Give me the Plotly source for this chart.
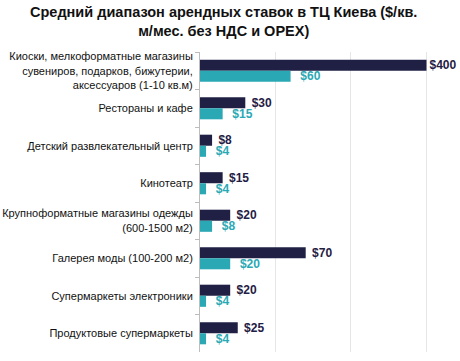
import plotly.graph_objects as go
import numpy as np

categories = [
    "Киоски, мелкоформатные магазины<br>сувениров, подарков, бижутерии,<br>аксессуаров (1-10 кв.м)",
    "Рестораны и кафе",
    "Детский развлекательный центр",
    "Кинотеатр",
    "Крупноформатные магазины одежды<br>(600-1500 м2)",
    "Галерея моды (100-200 м2)",
    "Супермаркеты электроники",
    "Продуктовые супермаркеты",
]
max_rates = [400, 30, 8, 15, 20, 70, 20, 25]
min_rates = [60, 15, 4, 4, 8, 20, 4, 4]

AXIS_CAP = 150  # the chart truncates bars at this value
DARK = "#1f2044"
TEAL = "#2aa9b4"

def shown(vals):
    return np.minimum(np.array(vals), AXIS_CAP)

def label(v, pad):
    return ("" if v > AXIS_CAP else pad) + f"<b>${v}</b>"

fig = go.Figure()
fig.add_trace(go.Bar(
    y=categories, x=shown(max_rates), orientation="h",
    marker=dict(color=DARK, line=dict(width=0)),
    text=[label(v, " ") for v in max_rates], textposition="outside",
    textfont=dict(family="Liberation Sans", size=12, color=DARK),
    cliponaxis=False, constraintext="none", name="max",
))
fig.add_trace(go.Bar(
    y=categories, x=shown(min_rates), orientation="h",
    marker=dict(color=TEAL, line=dict(width=0)),
    text=[label(v, "  ") for v in min_rates], textposition="outside",
    textfont=dict(family="Liberation Sans", size=12, color=TEAL),
    cliponaxis=False, constraintext="none", name="min",
))

fig.update_layout(
    width=460, height=361,
    margin=dict(l=200, r=32, t=52, b=9),
    paper_bgcolor="white", plot_bgcolor="white",
    barmode="group", bargap=0.41, bargroupgap=0,
    showlegend=False,
    font=dict(family="Liberation Sans", size=11, color="#111111"),
)
fig.add_annotation(
    text="<b>Средний диапазон арендных ставок в ТЦ Киева ($/кв.<br>м/мес. без НДС и OPEX)</b>",
    xref="paper", yref="paper", x=(223 - 200) / 228, y=1, xanchor="center", yanchor="bottom",
    yshift=11, showarrow=False, align="center",
    font=dict(family="Liberation Sans", size=14.5, color="#111111"),
)
fig.update_xaxes(
    range=[0, 151], showticklabels=False, ticks="",
    showgrid=True, gridcolor="#e6e6e6", gridwidth=1,
    tickvals=[50, 100, 150], zeroline=False, showline=False,
    automargin=False,
)
fig.update_yaxes(
    autorange="reversed", showline=True, linecolor="#bdbdbd", linewidth=1,
    ticks="outside", tickson="boundaries", ticklen=4, tickcolor="#bdbdbd",
    tickfont=dict(family="Liberation Sans", size=11, color="#111111"),
    showgrid=False, automargin=False, ticklabelstandoff=4,
)

fig.write_html(
    "out.html",
    config={"displayModeBar": False},
    post_script="document.body.style.margin='0';",
)
